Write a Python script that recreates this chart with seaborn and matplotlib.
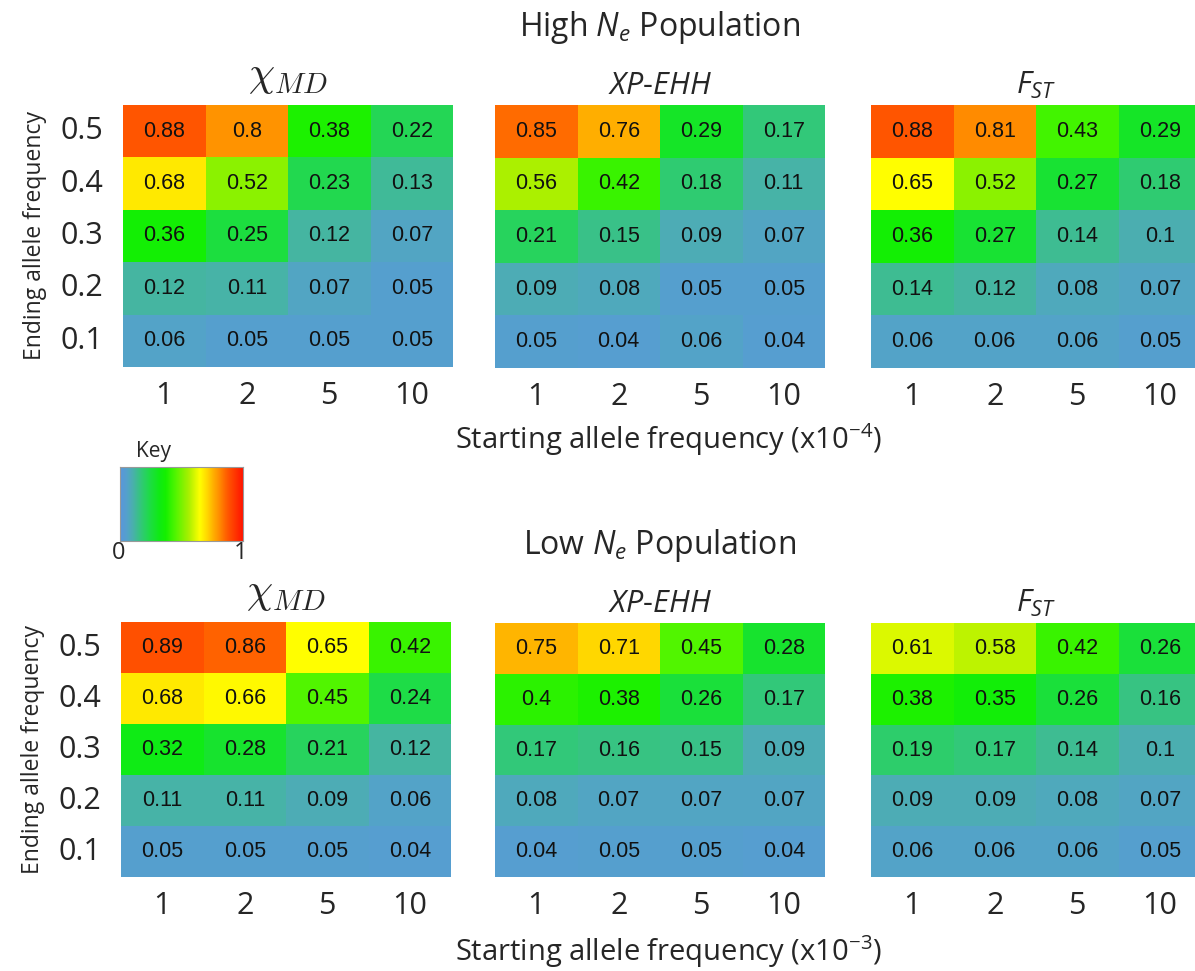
import numpy as np
import pandas as pd
import matplotlib
matplotlib.use("Agg")
import matplotlib.pyplot as plt
import seaborn as sns
from matplotlib.colors import LinearSegmentedColormap

sns.set_style("white")
plt.rcParams['font.family'] = ['Open Sans', 'DejaVu Sans']
plt.rcParams['mathtext.fontset'] = 'custom'
plt.rcParams['mathtext.rm'] = 'Open Sans'
plt.rcParams['mathtext.it'] = 'Open Sans:italic'

# data
start_freq = ['1', '2', '5', '10']
end_freq = ['0.5', '0.4', '0.3', '0.2', '0.1']

high_xmd = [[0.88, 0.80, 0.38, 0.22],
            [0.68, 0.52, 0.23, 0.13],
            [0.36, 0.25, 0.12, 0.07],
            [0.12, 0.11, 0.07, 0.05],
            [0.06, 0.05, 0.05, 0.05]]
high_xpehh = [[0.85, 0.76, 0.29, 0.17],
              [0.56, 0.42, 0.18, 0.11],
              [0.21, 0.15, 0.09, 0.07],
              [0.09, 0.08, 0.05, 0.05],
              [0.05, 0.04, 0.06, 0.04]]
high_fst = [[0.88, 0.81, 0.43, 0.29],
            [0.65, 0.52, 0.27, 0.18],
            [0.36, 0.27, 0.14, 0.10],
            [0.14, 0.12, 0.08, 0.07],
            [0.06, 0.06, 0.06, 0.05]]

low_xmd = [[0.89, 0.86, 0.65, 0.42],
           [0.68, 0.66, 0.45, 0.24],
           [0.32, 0.28, 0.21, 0.12],
           [0.11, 0.11, 0.09, 0.06],
           [0.05, 0.05, 0.05, 0.04]]
low_xpehh = [[0.75, 0.71, 0.45, 0.28],
             [0.40, 0.38, 0.26, 0.17],
             [0.17, 0.16, 0.15, 0.09],
             [0.08, 0.07, 0.07, 0.07],
             [0.04, 0.05, 0.05, 0.04]]
low_fst = [[0.61, 0.58, 0.42, 0.26],
           [0.38, 0.35, 0.26, 0.16],
           [0.19, 0.17, 0.14, 0.10],
           [0.09, 0.09, 0.08, 0.07],
           [0.06, 0.06, 0.06, 0.05]]

# colour key: blue -> green -> yellow -> orange -> red
cmap = LinearSegmentedColormap.from_list('key', [
    (0.00, (90/255, 150/255, 220/255)),
    (0.05, (85/255, 160/255, 205/255)),
    (0.10, (75/255, 175/255, 175/255)),
    (0.17, (50/255, 200/255, 120/255)),
    (0.24, (30/255, 220/255, 70/255)),
    (0.32, (15/255, 235/255, 20/255)),
    (0.37, (20/255, 240/255, 0)),
    (0.45, (80/255, 245/255, 0)),
    (0.56, (170/255, 240/255, 0)),
    (0.65, (1, 1, 0)),
    (0.71, (1, 215/255, 0)),
    (0.76, (1, 175/255, 0)),
    (0.81, (1, 140/255, 0)),
    (0.86, (1, 100/255, 0)),
    (0.89, (1, 80/255, 0)),
    (1.00, (1, 20/255, 0)),
])

W, H = 1195, 971
fig = plt.figure(figsize=(W / 100, H / 100), dpi=100)


def px_axes(x0, y0, x1, y1):
    return fig.add_axes([x0 / W, 1 - y1 / H, (x1 - x0) / W, (y1 - y0) / H])


panels = [
    (high_xmd, (123, 105, 453, 367), True),
    (high_xpehh, (495, 105, 825, 368), False),
    (high_fst, (871, 105, 1201, 368), False),
    (low_xmd, (121, 622, 451, 877), True),
    (low_xpehh, (495, 623, 825, 877), False),
    (low_fst, (871, 623, 1201, 877), False),
]
titles = [r'$\chi_{MD}$', r'$\mathit{XP}$-$\mathit{EHH}$', r'$\mathit{F}_{\mathit{ST}}$']

for i, (vals, box, show_y) in enumerate(panels):
    ax = px_axes(*box)
    df = pd.DataFrame(vals, index=end_freq, columns=start_freq)
    sns.heatmap(df, ax=ax, cmap=cmap, vmin=0, vmax=1, cbar=False,
                annot=True, fmt='g',
                annot_kws={'color': '#111111', 'fontsize': 15.5,
                           'family': 'Liberation Sans'})
    ax.tick_params(axis='x', length=0, pad=10, labelsize=22, rotation=0)
    ax.tick_params(axis='y', length=0, pad=14, labelsize=22, rotation=0)
    if show_y:
        ax.set_ylabel('Ending allele frequency', fontsize=16.5, labelpad=10)
    else:
        ax.set_yticklabels([])
        ax.set_ylabel('')
    if i % 3 == 0:
        ax.set_title(titles[0], fontsize=30, pad=14, math_fontfamily='cm')
    else:
        ax.set_title(titles[i % 3], fontsize=22, pad=8)

# section titles and x labels
fig.text(660 / W, 1 - 28 / H, r'High $\mathit{N}_{\mathit{e}}$ Population',
         ha='center', va='center', fontsize=23)
fig.text(660 / W, 1 - 545 / H, r'Low $\mathit{N}_{\mathit{e}}$ Population',
         ha='center', va='center', fontsize=23)
fig.text(668 / W, 1 - 440 / H, r'Starting allele frequency (x10$^{-4}$)',
         ha='center', va='center', fontsize=21)
fig.text(668 / W, 1 - 952 / H, r'Starting allele frequency (x10$^{-3}$)',
         ha='center', va='center', fontsize=21)

# key
kax = px_axes(120, 467, 243, 541)
grad = np.linspace(0, 1, 256).reshape(1, -1)
kax.imshow(grad, aspect='auto', cmap=cmap, vmin=0, vmax=1)
kax.set_xticks([])
kax.set_yticks([])
for s in kax.spines.values():
    s.set_color('#999999')
    s.set_linewidth(0.8)
fig.text(153 / W, 1 - 451 / H, 'Key', ha='center', va='center', fontsize=15)
fig.text(119 / W, 1 - 553 / H, '0', ha='center', va='center', fontsize=17)
fig.text(241 / W, 1 - 553 / H, '1', ha='center', va='center', fontsize=17)

fig.savefig('out.png', dpi=100)
